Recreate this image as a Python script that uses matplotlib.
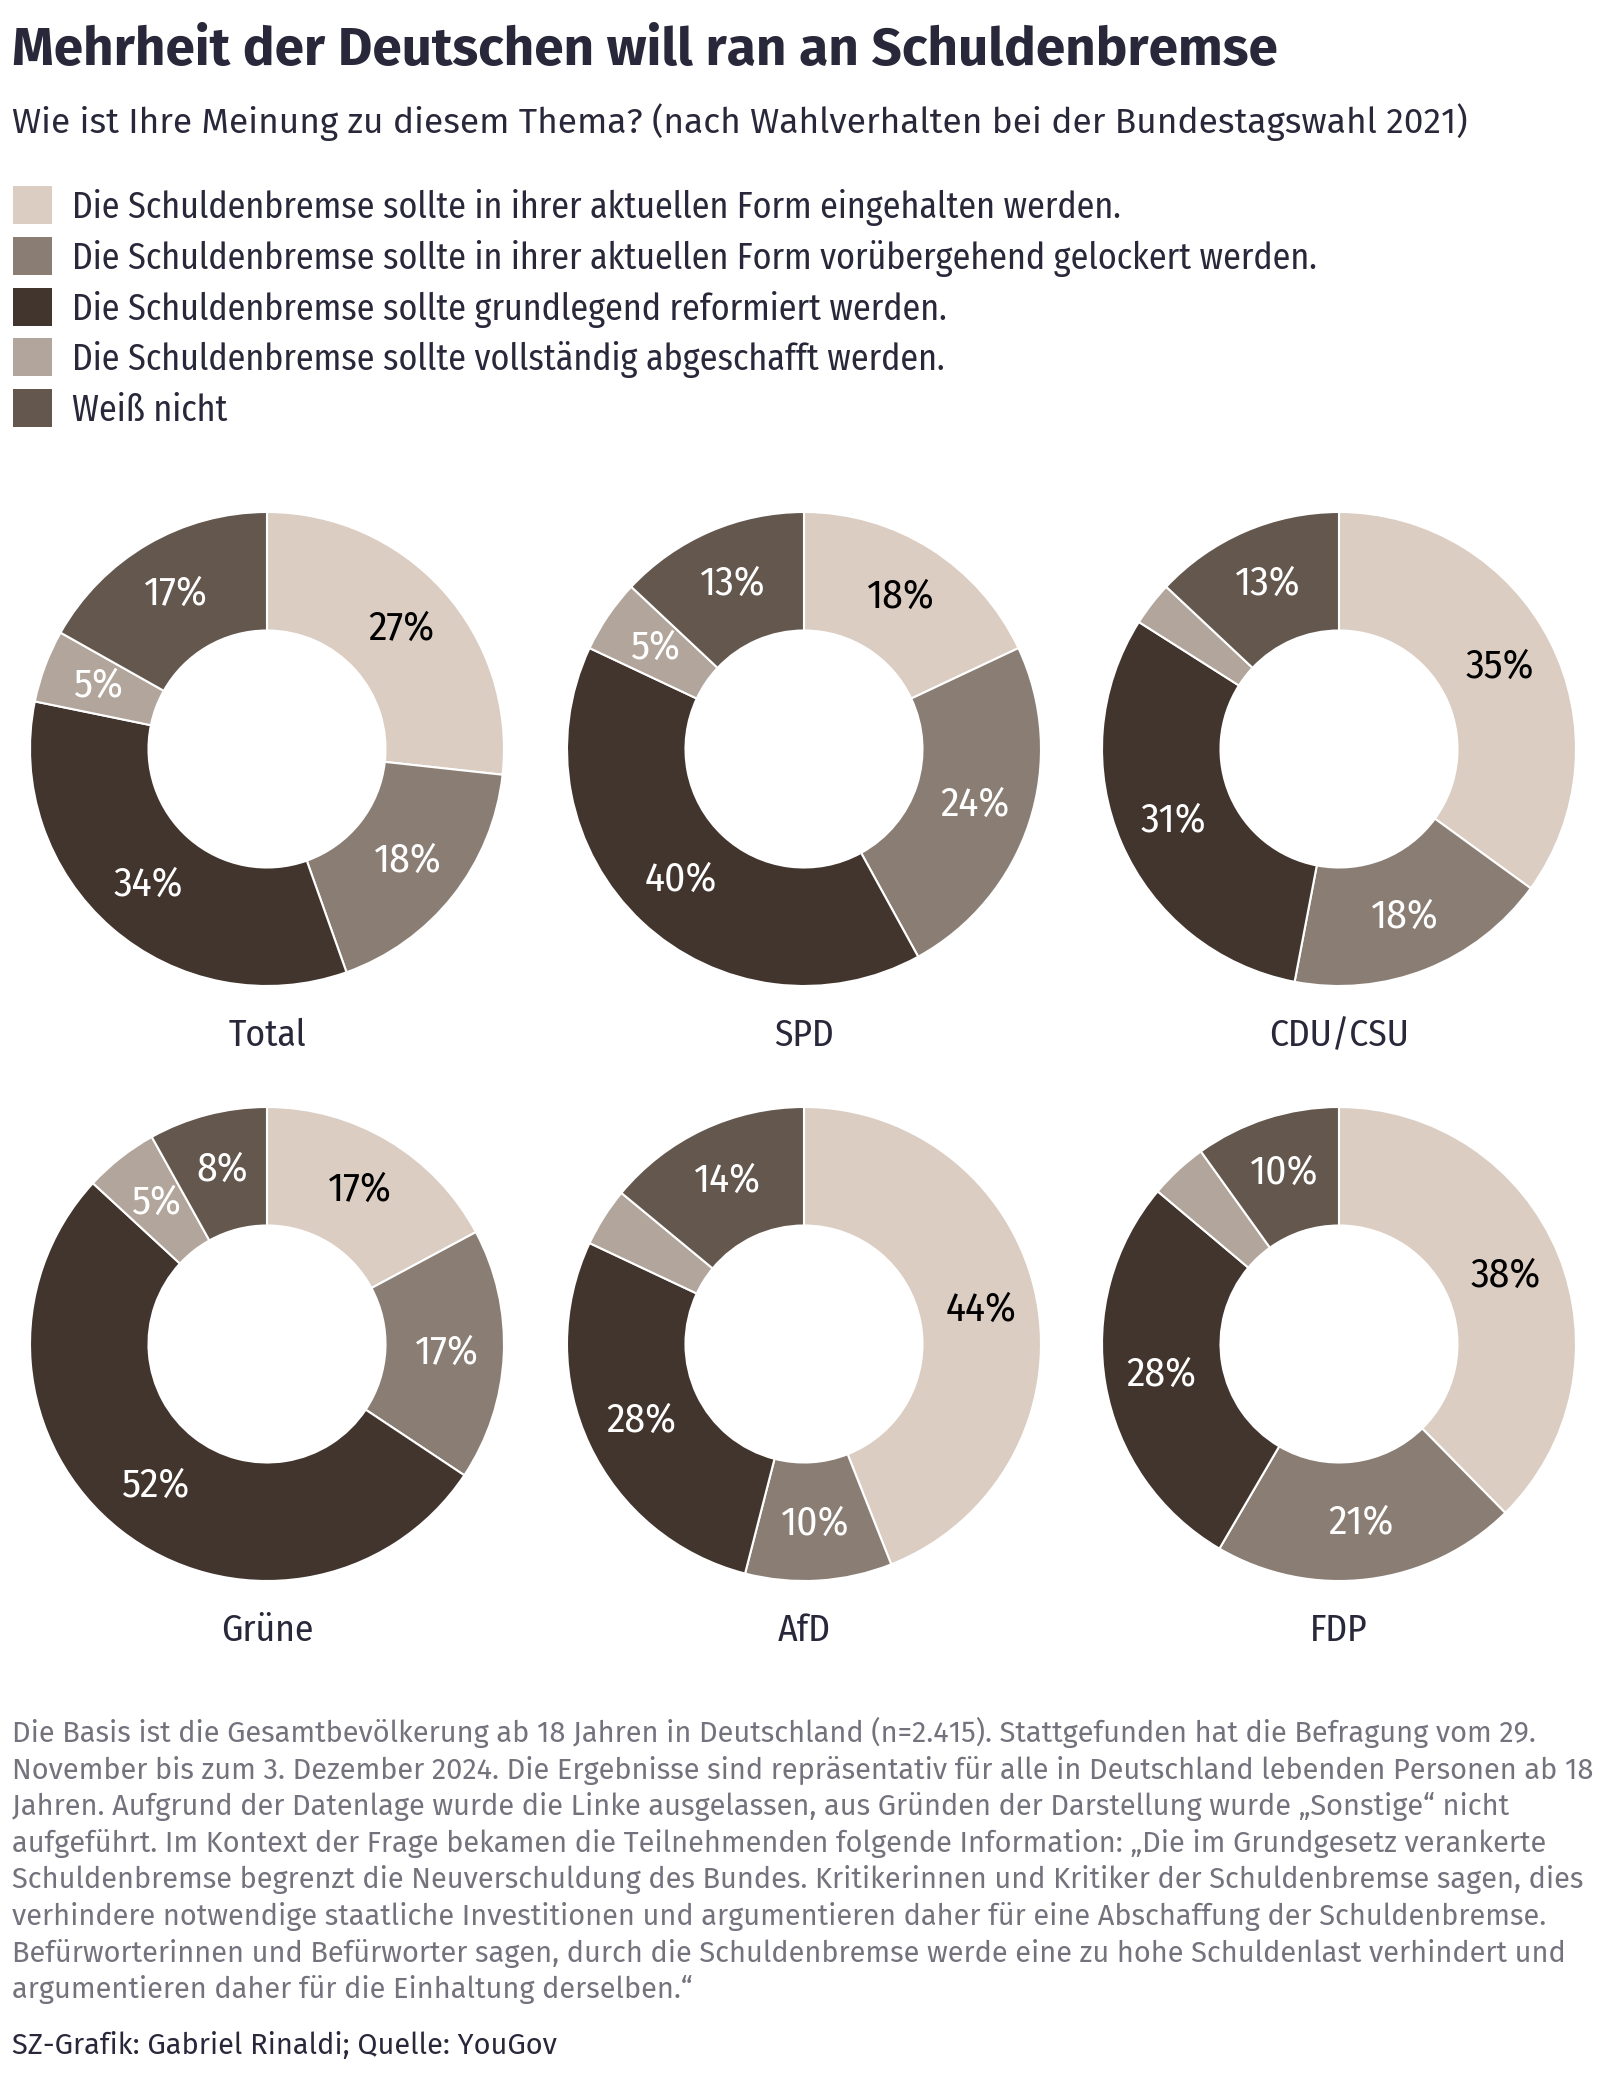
import numpy as np
import matplotlib.pyplot as plt
from matplotlib import font_manager
from matplotlib.patches import Rectangle

# Daten (Prozent) je Wählergruppe
parties = ['Total', 'SPD', 'CDU/CSU', 'Grüne', 'AfD', 'FDP']
eingehalten = [27, 18, 35, 17, 44, 38]
gelockert = [18, 24, 18, 17, 10, 21]
reformiert = [34, 40, 31, 52, 28, 28]
abgeschafft = [5, 5, 3, 5, 4, 4]
weiss_nicht = [17, 13, 13, 8, 14, 10]

categories = [
    'Die Schuldenbremse sollte in ihrer aktuellen Form eingehalten werden.',
    'Die Schuldenbremse sollte in ihrer aktuellen Form vorübergehend gelockert werden.',
    'Die Schuldenbremse sollte grundlegend reformiert werden.',
    'Die Schuldenbremse sollte vollständig abgeschafft werden.',
    'Weiß nicht',
]
colors = ['#dbcdc2', '#8a7d74', '#42352e', '#b2a59b', '#64574e']
label_colors = ['#000000', '#ffffff', '#ffffff', '#ffffff', '#ffffff']

title = 'Mehrheit der Deutschen will ran an Schuldenbremse'
subtitle = 'Wie ist Ihre Meinung zu diesem Thema? (nach Wahlverhalten bei der Bundestagswahl 2021)'
footnote = [
    'Die Basis ist die Gesamtbevölkerung ab 18 Jahren in Deutschland (n=2.415). Stattgefunden hat die Befragung vom 29.',
    'November bis zum 3. Dezember 2024. Die Ergebnisse sind repräsentativ für alle in Deutschland lebenden Personen ab 18',
    'Jahren. Aufgrund der Datenlage wurde die Linke ausgelassen, aus Gründen der Darstellung wurde „Sonstige“ nicht',
    'aufgeführt. Im Kontext der Frage bekamen die Teilnehmenden folgende Information: „Die im Grundgesetz verankerte',
    'Schuldenbremse begrenzt die Neuverschuldung des Bundes. Kritikerinnen und Kritiker der Schuldenbremse sagen, dies',
    'verhindere notwendige staatliche Investitionen und argumentieren daher für eine Abschaffung der Schuldenbremse.',
    'Befürworterinnen und Befürworter sagen, durch die Schuldenbremse werde eine zu hohe Schuldenlast verhindert und',
    'argumentieren daher für die Einhaltung derselben.“',
]
credit = 'SZ-Grafik: Gabriel Rinaldi; Quelle: YouGov'

# Schriften: erste installierte Familie, die das gewünschte Gewicht statisch mitbringt
fonts = font_manager.fontManager.ttflist


def pick(options, weights):
    for o in options:
        if any(f.name == o and f.style == 'normal' and f.weight in weights for f in fonts):
            return [o, 'DejaVu Sans']
    return ['Lato', 'DejaVu Sans']


sans = pick(['Source Sans Pro', 'Fira Sans', 'Lato'], [400, 'normal', 'regular'])
sans_bold = pick(['Source Sans Pro', 'Fira Sans', 'Lato'], [700, 800, 900, 'bold'])
narrow = pick(['Fira Sans Condensed', 'Roboto Condensed', 'Archivo Narrow'], [400, 'normal', 'regular'])

W, H = 1608, 2078
fig = plt.figure(figsize=(W / 100, H / 100), dpi=100)
fig.patch.set_facecolor('white')
text_dark = '#29283a'


def fx(x):
    return x / W


def fy(y):
    return 1 - y / H


renderer = fig.canvas.get_renderer()


def fit(texts, ref, width):
    # Schriftgröße so setzen, dass ref die Breite aus dem Original erreicht
    w = ref.get_window_extent(renderer).width
    size = ref.get_fontsize() * width / w
    for t in texts:
        t.set_fontsize(size)


# Titel und Untertitel
t_title = fig.text(fx(12), fy(65), title, fontsize=34, fontweight='bold', family=sans_bold,
                   color=text_dark, va='baseline')
fit([t_title], t_title, 1268)
t_sub = fig.text(fx(12), fy(133), subtitle, fontsize=25, family=sans,
                 color=text_dark, va='baseline')
fit([t_sub], t_sub, 1456)

# Legende
leg_texts = []
for i, (cat, col) in enumerate(zip(categories, colors)):
    top = 186 + i * 50.8
    fig.patches.append(Rectangle((fx(13), fy(top + 38)), 39 / W, 38 / H, facecolor=col,
                                 edgecolor='none', transform=fig.transFigure))
    leg_texts.append(fig.text(fx(72), fy(top + 32), cat, fontsize=29, family=narrow,
                              color=text_dark, va='baseline'))
fit(leg_texts, leg_texts[1], 1247)

# Donuts
centers_x = [267, 804, 1339]
centers_y = [749, 1344]
R = 237
values = list(zip(eingehalten, gelockert, reformiert, abgeschafft, weiss_nicht))
pct_texts = []
party_texts = []

for k, party in enumerate(parties):
    cx = centers_x[k % 3]
    cy = centers_y[k // 3]
    ax = fig.add_axes([fx(cx - R), fy(cy + R), 2 * R / W, 2 * R / H])
    wedges, _ = ax.pie(values[k], colors=colors, startangle=90, counterclock=False, radius=1,
                       wedgeprops=dict(width=0.5, edgecolor='white', linewidth=1.5))
    for w, v, lc in zip(wedges, values[k], label_colors):
        if v < 5:
            continue
        ang = np.deg2rad((w.theta1 + w.theta2) / 2)
        pct_texts.append(ax.text(0.76 * np.cos(ang), 0.76 * np.sin(ang), f'{v}%', ha='center',
                                 va='center', fontsize=27, family=narrow, color=lc))
    ax.set_xlim(-1, 1)
    ax.set_ylim(-1, 1)
    ax.set_aspect('equal')
    ax.axis('off')
    party_texts.append(fig.text(fx(cx), fy(cy + 297), party, ha='center', va='baseline',
                                fontsize=28, family=narrow, color=text_dark))

fit(pct_texts, pct_texts[0], 66)
fit(party_texts, party_texts[2], 140)

# Fußnote
foot_texts = []
for i, line in enumerate(footnote):
    foot_texts.append(fig.text(fx(12), fy(1742 + i * 36.6), line, fontsize=17, family=sans,
                               color='#74727d', va='baseline'))
fit(foot_texts, foot_texts[0], 1526)
t_credit = fig.text(fx(12), fy(2054), credit, fontsize=17, family=sans,
                    color=text_dark, va='baseline')
fit([t_credit], t_credit, 545)

fig.savefig('out.png', dpi=100)
